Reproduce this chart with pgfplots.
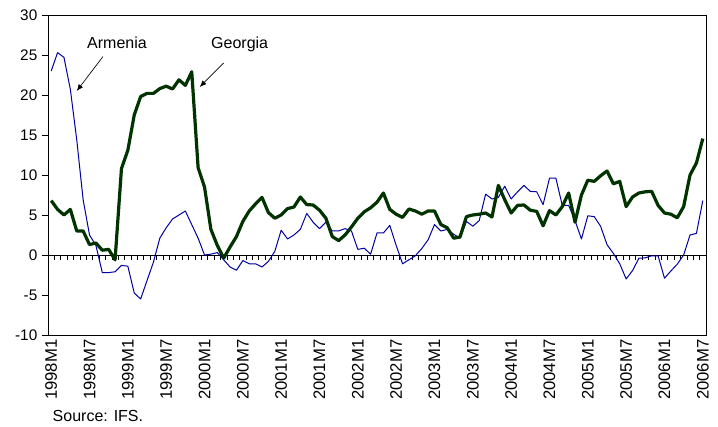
\documentclass[border=0pt]{standalone}
\usepackage{fontspec}
\setmainfont{Liberation Sans}
\usepackage{pgfplots}
\pgfplotsset{compat=1.18}
\usepackage{pgfplotstable}
\usetikzlibrary{arrows.meta}

\definecolor{armblue}{RGB}{0,0,160}
\definecolor{geogreen}{RGB}{0,51,0}

% month index (0 = 1998M1), y/y percentage change
\pgfplotstableread{
i arm geo
0 23.0 6.8
1 25.3 5.7
2 24.7 5.0
3 20.7 5.7
4 14.4 3.0
5 6.9 3.0
6 2.5 1.3
7 1.2 1.5
8 -2.2 0.6
9 -2.2 0.7
10 -2.1 -0.6
11 -1.3 10.8
12 -1.4 13.1
13 -4.75 17.5
14 -5.5 19.8
15 -3.2 20.2
16 -0.9 20.2
17 2.1 20.8
18 3.4 21.1
19 4.5 20.75
20 5.0 21.9
21 5.5 21.2
22 3.8 22.9
23 2.1 10.9
24 0.0 8.5
25 0.1 3.2
26 0.3 1.2
27 -0.6 -0.4
28 -1.5 1.0
29 -1.9 2.3
30 -0.7 4.2
31 -1.1 5.5
32 -1.1 6.4
33 -1.5 7.2
34 -0.8 5.3
35 0.45 4.6
36 3.1 5.0
37 2.0 5.8
38 2.5 6.0
39 3.2 7.25
40 5.2 6.3
41 4.1 6.25
42 3.3 5.6
43 4.1 4.6
44 3.0 2.3
45 3.0 1.8
46 3.3 2.5
47 3.0 3.5
48 0.7 4.6
49 0.85 5.4
50 0.1 5.9
51 2.75 6.6
52 2.75 7.75
53 3.7 5.7
54 1.2 5.1
55 -1.1 4.7
56 -0.6 5.75
57 -0.1 5.5
58 0.8 5.1
59 1.9 5.5
60 3.8 5.5
61 3.0 3.8
62 3.2 3.4
63 2.6 2.1
64 2.1 2.25
65 4.2 4.8
66 3.6 5.0
67 4.3 5.1
68 7.6 5.25
69 7.0 4.75
70 7.2 8.7
71 8.6 6.9
72 7.0 5.25
73 7.9 6.2
74 8.7 6.25
75 7.95 5.6
76 7.9 5.45
77 6.3 3.65
78 9.6 5.55
79 9.6 5.0
80 6.2 6.05
81 6.2 7.75
82 4.3 4.1
83 2.0 7.5
84 4.9 9.35
85 4.8 9.2
86 3.6 9.9
87 1.3 10.5
88 0.2 8.9
89 -1.1 9.2
90 -3.0 6.05
91 -1.95 7.25
92 -0.4 7.75
93 -0.35 7.9
94 -0.1 7.95
95 -0.1 6.2
96 -2.9 5.25
97 -2.0 5.1
98 -1.15 4.65
99 0.0 6.05
100 2.5 10.0
101 2.7 11.5
102 6.8 14.55
}\data

\begin{document}
\begin{tikzpicture}
\begin{axis}[
    scale only axis,
    width=493.5pt, height=240pt,
    xmin=-0.5, xmax=102.5,
    ymin=-10, ymax=30,
    ytick={-10,-5,...,30},
    ytick pos=left,
    ytick align=outside,
    major tick length=4.5pt,
    y tick style={black, line width=0.6pt},
    xtick={0,6,...,102},
    xticklabels={1998M1,1998M7,1999M1,1999M7,2000M1,2000M7,2001M1,2001M7,2002M1,2002M7,2003M1,2003M7,2004M1,2004M7,2005M1,2005M7,2006M1,2006M7},
    x tick style={draw=none},
    xticklabel style={rotate=90, anchor=east, font=\fontsize{12.5}{14}\selectfont},
    yticklabel style={font=\fontsize{11.5}{13}\selectfont},
    /pgf/number format/assume math mode=true,
    axis line style={black, line width=0.6pt},
    clip=false,
]
\coordinate (bl) at (rel axis cs:0,0);
\coordinate (tr) at (rel axis cs:1,1);

\draw[black, line width=0.6pt] (axis cs:-0.5,0) -- (axis cs:102.5,0);
\pgfplotsinvokeforeach{-0.5,0.5,...,102.5}{
    \draw[black, line width=0.5pt] (axis cs:#1,0) -- ([yshift=-3.5pt]axis cs:#1,0);
}

\addplot[armblue, line width=0.75pt, line join=round] table[x=i, y=arm] {\data};
\addplot[geogreen, line width=2.4pt, line join=round] table[x=i, y=geo] {\data};

\node[font=\fontsize{12}{14}\selectfont] at (axis cs:10.3,26.5) {Armenia};
\draw[-{Latex[length=5pt,width=4pt]}, line width=0.5pt] (axis cs:8.1,24.8) -- (axis cs:4.0,20.5);
\node[font=\fontsize{12}{14}\selectfont] at (axis cs:29.5,26.3) {Georgia};
\draw[-{Latex[length=5pt,width=4pt]}, line width=0.5pt] (axis cs:27.0,24.0) -- (axis cs:23.25,21.0);
\end{axis}
\node[anchor=base west, font=\fontsize{12}{14}\selectfont] at ([yshift=-65pt]bl) {Source: IFS.};
\pgfresetboundingbox
\path[use as bounding box] ([xshift=-36pt,yshift=-69pt]bl) rectangle ([xshift=9pt,yshift=11.25pt]tr);
\end{tikzpicture}
\end{document}
